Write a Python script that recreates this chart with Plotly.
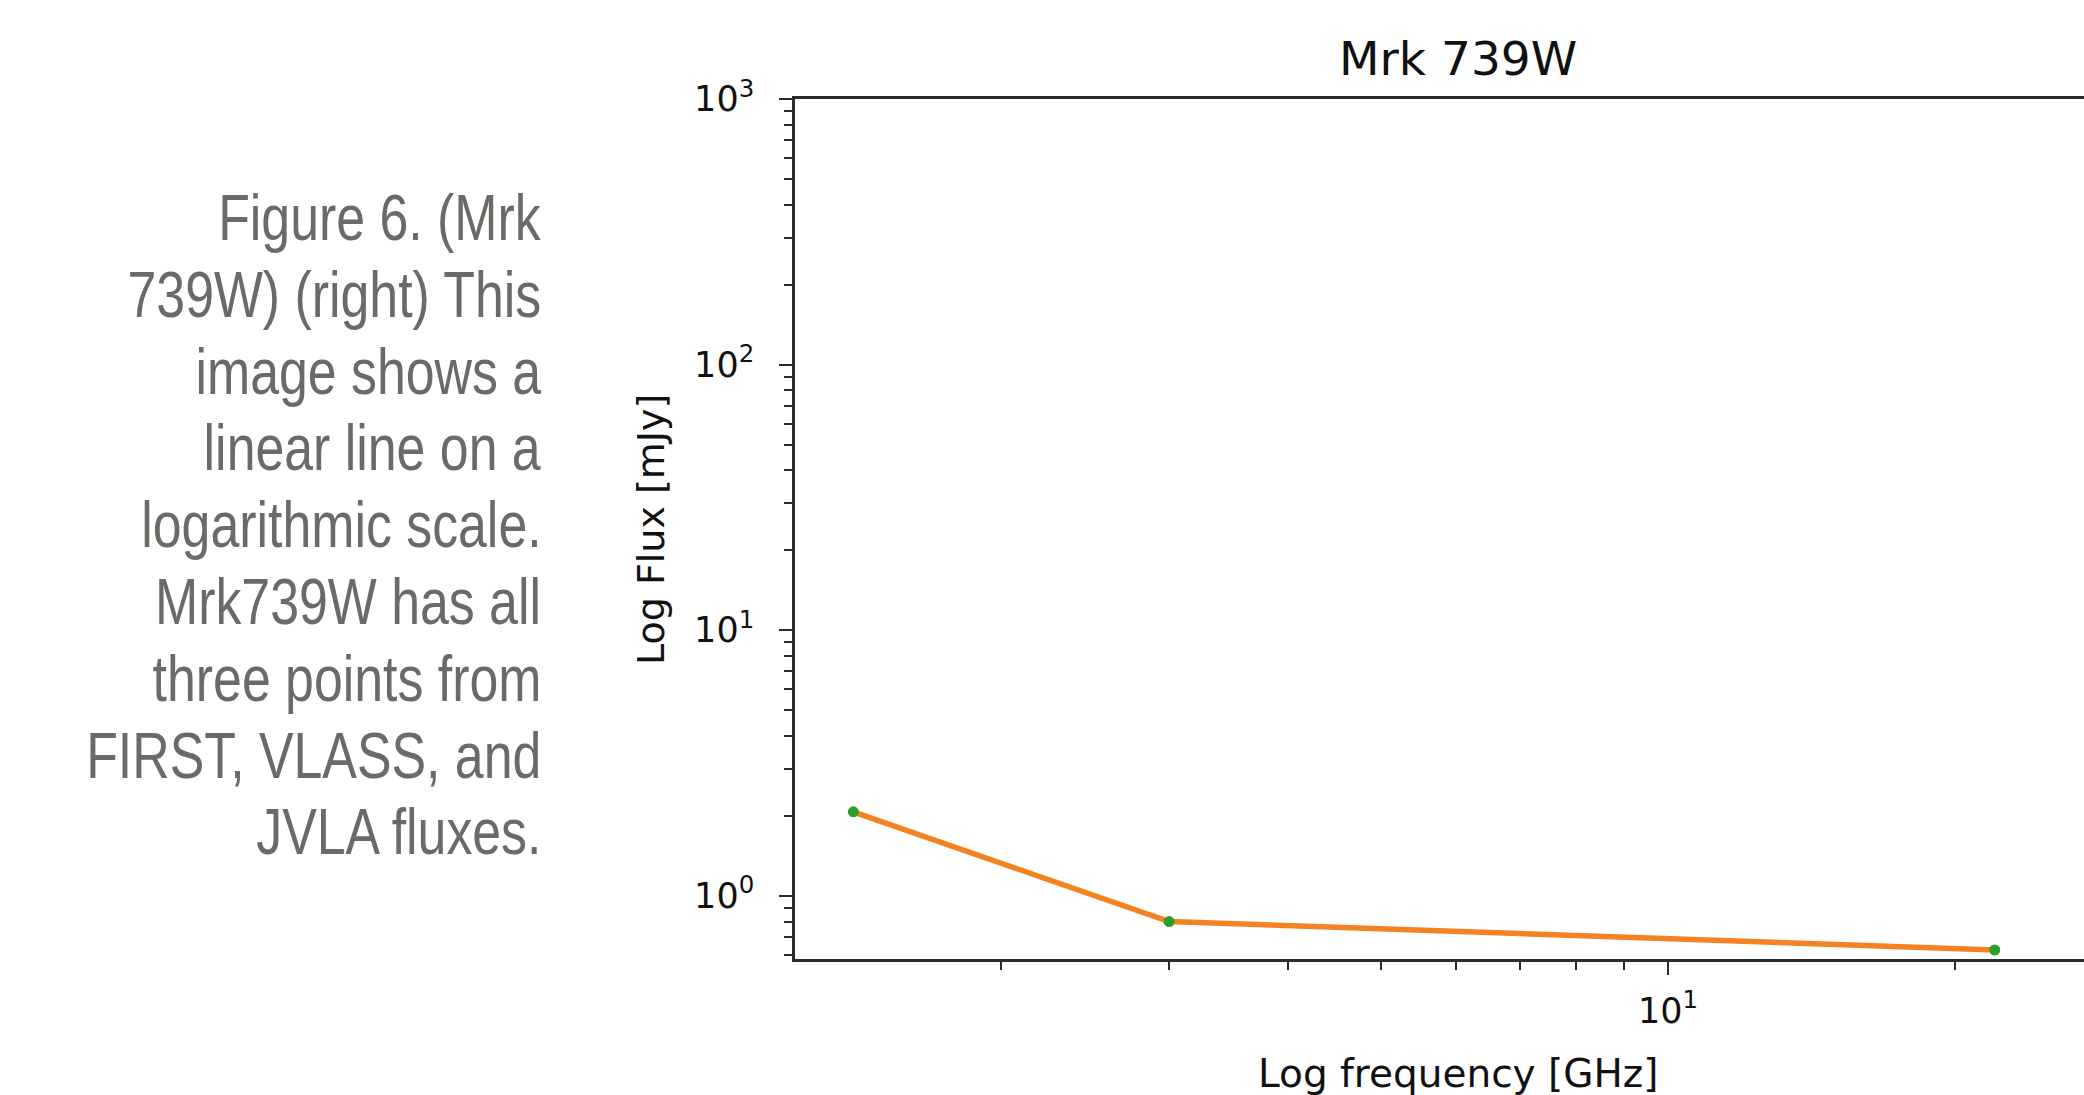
import plotly.graph_objects as go

# ---- data ----
freq_ghz = [1.4, 3.0, 22.0]          # FIRST, VLASS, JVLA
flux_mjy = [2.07, 0.80, 0.625]

title_text = "Mrk 739W"
x_label = "Log frequency [GHz]"
y_label = "Log Flux [mJy]"

x_tickvals = [10]
x_ticktext = ["10<sup>1</sup>"]
y_tickvals = [1, 10, 100, 1000]
y_ticktext = ["10<sup>0</sup>", "10<sup>1</sup>", "10<sup>2</sup>", "10<sup>3</sup>"]
x_minor = [2, 3, 4, 5, 6, 7, 8, 9, 20]
y_minor = [0.6, 0.7, 0.8, 0.9] + [m * 10 ** k for k in range(0, 3) for m in range(2, 10)]

caption_lines = [
    "Figure 6. (Mrk",
    "739W) (right) This",
    "image shows a",
    "linear line on a",
    "logarithmic scale.",
    "Mrk739W has all",
    "three points from",
    "FIRST, VLASS, and",
    "JVLA fluxes.",
]

# ---- layout geometry (pixels) ----
W, H = 2084, 1095
L, R, T, B = 795, 0, 99, 136
pw, ph = W - L - R, H - T - B

def px_x(x):
    return (x - L) / pw

def px_y(y):
    return (H - B - y) / ph

fig = go.Figure()
fig.add_trace(go.Scatter(
    x=freq_ghz, y=flux_mjy, mode="lines",
    line=dict(color="#f58220", width=5.5), showlegend=False,
))
fig.add_trace(go.Scatter(
    x=freq_ghz, y=flux_mjy, mode="markers",
    marker=dict(color="#2ca02c", size=11), showlegend=False,
))

axis_common = dict(
    showgrid=False, zeroline=False, showline=True, linecolor="#2b2b2b", linewidth=2.5,
    ticks="outside", ticklen=13, tickwidth=2, tickcolor="#2b2b2b",
    tickfont=dict(family="DejaVu Sans", size=35, color="#111111"),
)

fig.update_xaxes(
    type="log", range=[0.085, 1.436],
    tickvals=x_tickvals, ticktext=x_ticktext,
    minor=dict(tickvals=x_minor, ticks="outside", ticklen=8, tickwidth=1.5, tickcolor="#2b2b2b"),
    mirror=True, ticklabelstandoff=6,
    **axis_common,
)
fig.update_yaxes(
    type="log", range=[-0.238, 3.0],
    tickvals=y_tickvals, ticktext=y_ticktext,
    minor=dict(tickvals=y_minor, ticks="outside", ticklen=8, tickwidth=1.5, tickcolor="#2b2b2b"),
    mirror=False, ticklabelstandoff=18,
    **axis_common,
)

annotations = []
annotations.append(dict(
    text=title_text, x=px_x(1458), y=px_y(59), xref="paper", yref="paper",
    xanchor="center", yanchor="middle", showarrow=False,
    font=dict(family="DejaVu Sans", size=47, color="#111111"),
))
annotations.append(dict(
    text=x_label, x=px_x(1458), y=px_y(1073), xref="paper", yref="paper",
    xanchor="center", yanchor="middle", showarrow=False,
    font=dict(family="DejaVu Sans", size=39, color="#111111"),
))
annotations.append(dict(
    text=y_label, x=px_x(651), y=px_y(530), xref="paper", yref="paper",
    xanchor="center", yanchor="middle", showarrow=False, textangle=-90,
    font=dict(family="DejaVu Sans", size=38, color="#111111"),
))
n_fixed = len(annotations)
for i, line in enumerate(caption_lines):
    annotations.append(dict(
        text=line, x=px_x(543), y=px_y(218 + 76.8 * i), xref="paper", yref="paper",
        xanchor="right", yanchor="middle", showarrow=False, align="right",
        font=dict(family="Liberation Sans, Arial", size=64, color="#6a6a66"),
    ))

fig.update_layout(
    width=W, height=H, autosize=False,
    margin=dict(l=L, r=R, t=T, b=B, pad=0),
    paper_bgcolor="white", plot_bgcolor="white",
    annotations=annotations,
    showlegend=False,
)

# caption font in the reference is a condensed sans; narrow the caption lines horizontally
post = """
document.body.style.margin='0';
document.body.style.overflow='hidden';
var gd = document.getElementById('{plot_id}');
function narrow(){
  var anns = gd.querySelectorAll('g.annotation');
  anns.forEach(function(a){
    var idx = parseInt(a.getAttribute('data-index'));
    if (idx >= %d) {
      a.style.transformBox = 'fill-box';
      a.style.transformOrigin = 'right center';
      a.style.transform = 'scaleX(0.81)';
    }
  });
}
narrow();
gd.on('plotly_afterplot', narrow);
""" % n_fixed

fig.write_html("out.html", post_script=post, config={"displayModeBar": False})
